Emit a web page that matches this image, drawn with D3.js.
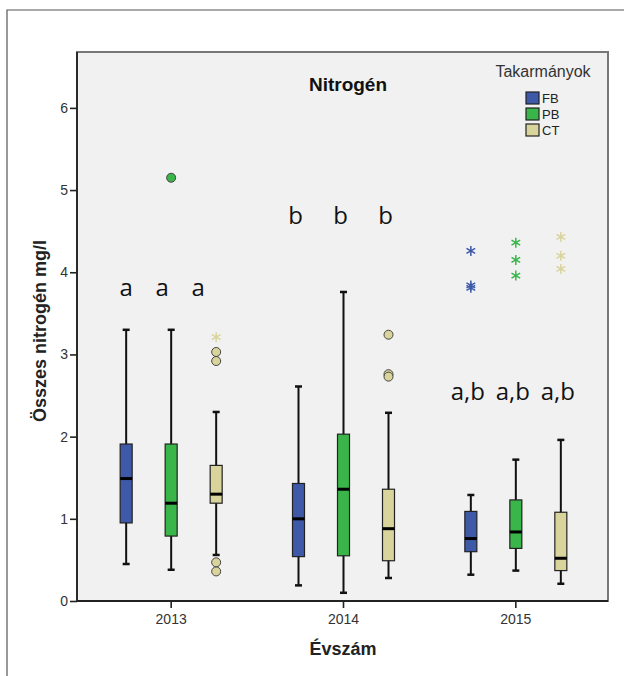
<!DOCTYPE html>
<html>
<head>
<meta charset="utf-8">
<script src="https://cdn.jsdelivr.net/npm/d3@7"></script>
<style>
  body { margin: 0; background: #fff; }
  svg { display: block; font-family: 'Liberation Sans', Arial, sans-serif; }
</style>
</head>
<body>
<svg id="chart" width="624" height="676"></svg>
<script>
// Data
const YEARS = ['2013', '2014', '2015'];
const FEEDS = ['FB', 'PB', 'CT'];
const FEED_COLORS = ['#3d59a8', '#3ab54a', '#d9d49b'];

// Five-number summaries per feed, one entry per year: [low, q1, median, q3, high]
const FB_BOXES = [
  [0.45, 0.95, 1.49, 1.91, 3.30],
  [0.19, 0.54, 1.00, 1.43, 2.61],
  [0.32, 0.60, 0.76, 1.09, 1.29],
];
const PB_BOXES = [
  [0.38, 0.79, 1.19, 1.91, 3.30],
  [0.10, 0.55, 1.36, 2.03, 3.76],
  [0.37, 0.64, 0.84, 1.23, 1.72],
];
const CT_BOXES = [
  [0.56, 1.19, 1.30, 1.65, 2.30],
  [0.28, 0.49, 0.88, 1.36, 2.29],
  [0.21, 0.37, 0.52, 1.08, 1.96],
];

// Outliers (circles) and extremes (stars): [year, feed, value]
const OUTLIERS = [
  ['2013', 'PB', 5.15],
  ['2013', 'CT', 3.03], ['2013', 'CT', 2.92],
  ['2013', 'CT', 0.47], ['2013', 'CT', 0.36],
  ['2014', 'CT', 3.24], ['2014', 'CT', 2.76], ['2014', 'CT', 2.73],
];
const EXTREMES = [
  ['2013', 'CT', 3.21],
  ['2015', 'FB', 4.26], ['2015', 'FB', 3.84], ['2015', 'FB', 3.81],
  ['2015', 'PB', 4.36], ['2015', 'PB', 4.15], ['2015', 'PB', 3.96],
  ['2015', 'CT', 4.43], ['2015', 'CT', 4.20], ['2015', 'CT', 4.04],
];

// Significance letters per year, and the value their baseline sits at
const LETTERS = ['a', 'b', 'a,b'];
const LETTER_LEVELS = [3.71, 4.59, 2.45];

const Y_TICKS = [0, 1, 2, 3, 4, 5, 6];

// Layout
const PLOT = { left: 77, top: 52, right: 608, bottom: 601 };
const Y_MAX = 6.68;
const BOX_WIDTH_PX = 12;
const CAP_WIDTH_PX = 7;
// The letters are not centred exactly on the boxes in the original.
const LETTER_SPREAD = [0.8, 1, 1];
const LETTER_SHIFT_PX = [-9, -3, -3];

let svg = d3.select('#chart');

let xScale = d3.scaleBand()
    .domain(YEARS)
    .range([PLOT.left + 8, PLOT.right - 6]);

let feedScale = d3.scalePoint()
    .domain(FEEDS)
    .range([-45, 45]);

let yScale = d3.scaleLinear()
    .domain([0, Y_MAX])
    .range([PLOT.bottom, PLOT.top]);

function cx(year, feed) {
  return xScale(year) + xScale.bandwidth() / 2 + feedScale(feed);
}

// Outer frame (left and top only, the rest is cut off)
svg.append('path')
    .attr('d', 'M7,676V10H624')
    .attr('fill', 'none')
    .attr('stroke', '#555')
    .attr('stroke-width', 1.2);

// Plot area
svg.append('rect')
    .attr('x', PLOT.left)
    .attr('y', PLOT.top)
    .attr('width', PLOT.right - PLOT.left)
    .attr('height', PLOT.bottom - PLOT.top)
    .attr('fill', '#f1f1f1')
    .attr('stroke', '#777')
    .attr('stroke-width', 2);

// Axes
let yAxis = svg.append('g')
    .attr('transform', 'translate(' + PLOT.left + ',0)')
    .call(d3.axisLeft(yScale).tickValues(Y_TICKS).tickFormat(d3.format('d'))
        .tickSize(7).tickPadding(2));
yAxis.select('.domain').remove();
yAxis.append('line')
    .attr('x1', 0).attr('x2', 0)
    .attr('y1', PLOT.top).attr('y2', PLOT.bottom)
    .attr('stroke', '#222').attr('stroke-width', 1.8);

let xAxis = svg.append('g')
    .attr('transform', 'translate(0,' + PLOT.bottom + ')')
    .call(d3.axisBottom(xScale).tickSize(7).tickPadding(6));
xAxis.select('.domain').remove();
xAxis.append('line')
    .attr('x1', PLOT.left).attr('x2', PLOT.right)
    .attr('stroke', '#222').attr('stroke-width', 1.8);

svg.selectAll('.tick line').attr('stroke', '#222').attr('stroke-width', 1.6);
svg.selectAll('.tick text')
    .attr('fill', '#333')
    .attr('font-size', 14)
    .attr('font-family', "'Liberation Sans', Arial, sans-serif");

// Axis titles and chart title
svg.append('text')
    .attr('x', 343).attr('y', 655)
    .attr('text-anchor', 'middle')
    .style('font-size', '18px').style('font-weight', 'bold')
    .attr('fill', '#222')
    .text('Évszám');

svg.append('text')
    .attr('transform', 'translate(46,331) rotate(-90)')
    .attr('text-anchor', 'middle')
    .style('font-size', '18px').style('font-weight', 'bold')
    .attr('fill', '#222')
    .text('Összes nitrogén mg/l');

svg.append('text')
    .attr('x', 348).attr('y', 91)
    .attr('text-anchor', 'middle')
    .style('font-size', '19px').style('font-weight', 'bold')
    .attr('fill', '#111')
    .text('Nitrogén');

// Legend
let legend = svg.append('g');
legend.append('text')
    .attr('x', 543).attr('y', 77)
    .attr('text-anchor', 'middle')
    .style('font-size', '16px')
    .attr('fill', '#333')
    .text('Takarmányok');
FEEDS.forEach(function(feed, i) {
  let y = 92 + i * 16;
  legend.append('rect')
      .attr('x', 526).attr('y', y)
      .attr('width', 13).attr('height', 12)
      .attr('fill', FEED_COLORS[i])
      .attr('stroke', '#222').attr('stroke-width', 1.2);
  legend.append('text')
      .attr('x', 542).attr('y', y + 11)
      .style('font-size', '13px')
      .attr('fill', '#222')
      .text(feed);
});

// Boxes
const BOXES_BY_FEED = [FB_BOXES, PB_BOXES, CT_BOXES];
let plot = svg.append('g');

FEEDS.forEach(function(feed, f) {
  YEARS.forEach(function(year, i) {
    const b = BOXES_BY_FEED[f][i];
    const x = cx(year, feed);
    let g = plot.append('g');
    // Whisker
    g.append('line')
        .attr('x1', x).attr('x2', x)
        .attr('y1', yScale(b[0])).attr('y2', yScale(b[4]))
        .attr('stroke', '#111').attr('stroke-width', 2);
    [b[0], b[4]].forEach(function(v) {
      g.append('line')
          .attr('x1', x - CAP_WIDTH_PX / 2).attr('x2', x + CAP_WIDTH_PX / 2)
          .attr('y1', yScale(v)).attr('y2', yScale(v))
          .attr('stroke', '#111').attr('stroke-width', 2.5);
    });
    g.append('rect')
        .attr('x', x - BOX_WIDTH_PX / 2)
        .attr('y', yScale(b[3]))
        .attr('width', BOX_WIDTH_PX)
        .attr('height', yScale(b[1]) - yScale(b[3]))
        .attr('fill', FEED_COLORS[f])
        .attr('stroke', '#222').attr('stroke-width', 1.2);
    g.append('line')
        .attr('x1', x - BOX_WIDTH_PX / 2).attr('x2', x + BOX_WIDTH_PX / 2)
        .attr('y1', yScale(b[2])).attr('y2', yScale(b[2]))
        .attr('stroke', '#000').attr('stroke-width', 3);
  });
});

// Outliers
plot.selectAll('circle.outlier')
    .data(OUTLIERS)
    .enter().append('circle')
    .attr('class', 'outlier')
    .attr('cx', function(d) { return cx(d[0], d[1]); })
    .attr('cy', function(d) { return yScale(d[2]); })
    .attr('r', 4.5)
    .attr('fill', function(d) { return FEED_COLORS[FEEDS.indexOf(d[1])]; })
    .attr('stroke', '#444').attr('stroke-width', 1);

// Extremes
let star = d3.symbol().type(d3.symbolAsterisk).size(70);
plot.selectAll('path.extreme')
    .data(EXTREMES)
    .enter().append('path')
    .attr('class', 'extreme')
    .attr('d', star)
    .attr('transform', function(d) {
      return 'translate(' + cx(d[0], d[1]) + ',' + yScale(d[2]) + ')';
    })
    .attr('fill', 'none')
    .attr('stroke', function(d) { return FEED_COLORS[FEEDS.indexOf(d[1])]; })
    .attr('stroke-width', 1.5);

// Significance letters
YEARS.forEach(function(year, i) {
  FEEDS.forEach(function(feed) {
    const centre = xScale(year) + xScale.bandwidth() / 2 + LETTER_SHIFT_PX[i];
    svg.append('text')
        .attr('x', centre + feedScale(feed) * LETTER_SPREAD[i])
        .attr('y', yScale(LETTER_LEVELS[i]))
        .attr('text-anchor', 'middle')
        .style('font-family', "'Open Sans', 'Noto Sans', sans-serif")
        .style('font-size', '24px')
        .attr('fill', '#111')
        .text(LETTERS[i]);
  });
});
</script>
</body>
</html>
